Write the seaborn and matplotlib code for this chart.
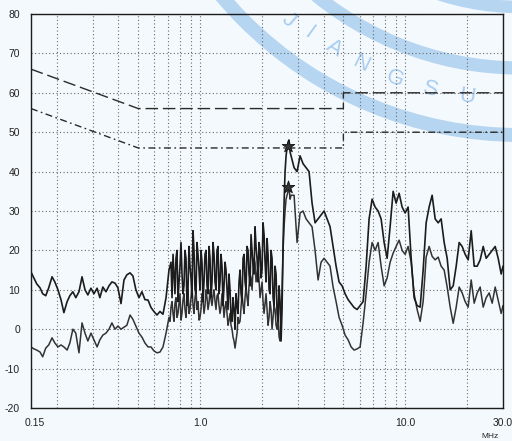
import matplotlib
matplotlib.use("Agg")
import matplotlib.pyplot as plt
from matplotlib.patches import Circle
from matplotlib.ticker import NullFormatter
import matplotlib.transforms as mtransforms
import numpy as np
import seaborn as sns

# ---- sweep frequencies (MHz) -------------------------------------------
freq_mhz = [
    0.150, 0.155, 0.160, 0.166, 0.171, 0.177, 0.183, 0.190, 0.196, 0.203,
    0.210, 0.217, 0.225, 0.232, 0.240, 0.248, 0.257, 0.266, 0.275, 0.284,
    0.294, 0.304, 0.315, 0.325, 0.336, 0.348, 0.360, 0.372, 0.385, 0.398,
    0.412, 0.426, 0.440, 0.456, 0.471, 0.487, 0.504, 0.521, 0.539, 0.558,
    0.577, 0.596, 0.617, 0.638, 0.660, 0.683, 0.706,
    0.7143, 0.7221, 0.7305, 0.7386, 0.7466, 0.7551, 0.7636, 0.7723, 0.7810, 0.7901,
    0.7989, 0.8079, 0.8169, 0.8262, 0.8354, 0.8449, 0.8545, 0.8641, 0.8739, 0.8837,
    0.8938, 0.9039, 0.9141, 0.9244, 0.9349, 0.9454, 0.9561, 0.9669, 0.9778, 0.9888,
    1.0000, 1.0113, 1.0227, 1.0342, 1.0460, 1.0578, 1.0697, 1.0818, 1.0940, 1.1064,
    1.1189, 1.1315, 1.1443, 1.1572, 1.1703, 1.1835, 1.1969, 1.2103, 1.2241, 1.2379,
    1.2519, 1.2660, 1.2803, 1.2948, 1.3094, 1.3243, 1.3392, 1.3542, 1.3696, 1.3851,
    1.4007, 1.4166, 1.4325, 1.4488, 1.4651, 1.4817, 1.4984, 1.5155, 1.5324, 1.5498,
    1.5672, 1.5849, 1.6029, 1.6213, 1.6393, 1.6580, 1.6765, 1.6959, 1.7146, 1.7338,
    1.7536, 1.7734, 1.7934, 1.8134, 1.8341, 1.8548, 1.8758, 1.8967, 1.9184, 1.9400,
    1.9620, 1.9843, 2.0066, 2.0291, 2.0522, 2.0755, 2.0988, 2.1223, 2.1465, 2.1708,
    2.1952, 2.2198, 2.2451, 2.2707, 2.2961, 2.3226, 2.3483, 2.3751, 2.4016, 2.4294,
    2.4562, 2.4842, 2.5120, 2.5409, 2.5690, 2.5983, 2.6274, 2.6577, 2.6871, 2.7177,
    2.7481, 2.7797,
    2.875, 2.973, 3.075, 3.180, 3.289, 3.401, 3.518, 3.639, 3.764, 3.892,
    4.026, 4.164, 4.306, 4.454, 4.607, 4.764, 4.928, 5.096, 5.272, 5.453,
    5.639, 5.833, 6.033, 6.239, 6.454, 6.674, 6.902, 7.140, 7.384, 7.637,
    7.900, 8.170, 8.449, 8.740, 9.039, 9.348, 9.669, 10.00, 10.34, 10.70,
    11.06, 11.44, 11.84, 12.24, 12.66, 13.09, 13.54, 14.01, 14.49, 14.98,
    15.50, 16.03, 16.58, 17.15, 17.74, 18.34, 18.97, 19.62, 20.29, 20.99,
    21.71, 22.45, 23.22, 24.02, 24.84, 25.69, 26.57, 27.48, 28.42, 29.40,
    30.00,
]

# ---- peak detector trace (dBuV) -----------------------------------------
peak_dbuv = [
    14.5, 13.0, 11.5, 10.5, 9.0, 8.5, 10.5, 13.3, 12.0, 10.0,
    7.5, 4.2, 7.0, 8.5, 9.5, 8.0, 9.5, 13.3, 10.0, 8.7,
    10.4, 9.0, 10.4, 8.0, 10.7, 9.5, 11.0, 12.0, 11.7, 10.5,
    6.5, 12.5, 13.8, 14.3, 13.5, 10.0, 8.0, 9.5, 7.5, 7.4,
    5.5, 4.5, 3.6, 4.5, 3.8, 8.0, 15.0,
    16, 17, 8, 19, 14, 9, 18, 20, 7, 12,
    16, 22, 14, 9, 11, 20, 18, 6, 10, 21,
    16, 13, 8, 25, 20, 10, 9, 22, 19, 15,
    10, 20, 17, 7, 12, 19, 20, 11, 9, 21,
    18, 8, 12, 22, 19, 12, 10, 20, 21, 9,
    12, 19, 16, 6, 11, 17, 15, 10, 5, 14,
    10, 3, 2, 8, 5, 0, 9, 6, 4, 12,
    15, 9, 7, 18, 19, 12, 10, 21, 20, 14,
    11, 24, 20, 16, 14, 26, 21, 18, 12, 22,
    20, 13, 15, 27, 24, 17, 12, 23, 19, 10,
    9, 20, 18, 8, 6, 16, 14, 4, 2, 11,
    7, -3, 5, 22, 32, 40, 44, 46, 47, 48,
    45, 44,
    41, 40, 44, 42, 41, 40, 32, 27, 28, 29,
    30, 28, 26, 21, 16, 12, 11, 9, 7.5, 6.5,
    5.5, 5, 6, 7, 16, 28, 33, 31, 30, 28,
    22, 18, 26, 35, 32, 34.5, 31, 29.5, 31, 18,
    8, 6, 5.6, 15, 27, 31, 34, 28, 27, 28,
    22, 18, 10, 11, 16, 22, 21, 19, 17.6, 25,
    16, 16, 17.6, 21, 18, 19, 20, 21, 18, 14,
    16,
]

# ---- average detector trace (dBuV) --------------------------------------
avg_dbuv = [
    -4.5, -5, -5.3, -5.8, -7, -4.8, -4, -2.2, -3.5, -4.5,
    -4, -4.5, -5.3, -3.5, 0, -1, -6, 1.6, -1, -3,
    -1, -2.7, -4.5, -2.7, -1.5, -1, 0, 1.6, 0, 0.8,
    0, 0.5, 1, 3.6, 2.5, 0.8, -1, -2, -3.5, -4.5,
    -4.5, -5.5, -6, -5.8, -4.5, -1, 3,
    2, 5.6, 7, 4, 2, 6.6, 8, 3, 4, 6.6,
    9, 2.3, 4, 7.4, 9, 5, 3, 7.4, 10, 4,
    5, 8, 11, 6, 4, 8, 10, 5, 7, 2.3,
    3, 5, 9, 7.4, 4, 6, 10, 8, 5, 6.6,
    10, 7.5, 6, 8.5, 10, 7, 5, 8.5, 9, 6,
    4, 5.6, 9, 7, 3, 5.6, 7, 4, 1, 2.3,
    4, 1, 0, -2, -3, -4.8, -3, -1, 3, 1.5,
    2, 5.6, 9, 6, 4, 8, 11, 8, 6, 11,
    14, 13, 10, 15, 18, 16.8, 12, 14, 16, 12.5,
    8, 10, 12, 7, 4, 6.6, 9, 5, 1, 3,
    7, 5, 0, 3, 6, 5, 1, 0, 3, -2,
    -3, 3, 10, 20, 26, 30, 33, 34, 35, 36,
    33, 34,
    34, 22, 29.5, 30, 28, 27, 26, 20, 12.5, 17,
    18, 17, 16, 10.7, 7, 3, 1, -1.5, -2.7, -4.5,
    -5.3, -5, -4.5, 1.6, 9, 17, 22, 20, 22, 16,
    11, 13, 17, 19.3, 21, 22.6, 20, 19, 21, 17,
    9, 5, 2, 7, 18.3, 21, 18.5, 17.6, 18.3, 16,
    15, 10.7, 5.6, 1.5, 5.6, 10.7, 9.2, 7, 5.6, 12.5,
    6.6, 9.2, 10.7, 5.6, 8, 9.2, 6.6, 10.7, 7.4, 4,
    6,
]

# ---- limit lines (EN 55022 class B style) -------------------------------
qp_limit_f = [0.15, 0.5, 5.0, 5.0, 30.0]
qp_limit_db = [66, 56, 56, 60, 60]
av_limit_f = [0.15, 0.5, 5.0, 5.0, 30.0]
av_limit_db = [56, 46, 46, 50, 50]

# ---- peak markers -------------------------------------------------------
marker_f = [2.69, 2.69]
marker_db = [46.5, 36]

# ---- axis labels --------------------------------------------------------
y_ticks = list(range(-20, 81, 10))
x_tick_vals = [0.15, 1.0, 10.0, 30.0]
x_tick_text = ["0.15", "1.0", "10.0", "30.0"]
x_unit = "MHz"
stamp_letters = ["J", "I", "A", "N", "G", "S", "U"]

sns.set_style("white")
plt.rcParams["font.family"] = ["Liberation Sans Narrow", "Liberation Sans", "DejaVu Sans"]

W, H = 512, 441
paper = "#f3f9fd"
ink = "#1c1c1c"

fig = plt.figure(figsize=(W / 100, H / 100), dpi=100, facecolor=paper)

# stamp layer behind the chart, in pixel units
bg = fig.add_axes([0, 0, 1, 1], zorder=0)
bg.set_xlim(0, W)
bg.set_ylim(H, 0)
bg.axis("off")
stamp_c = (520, -255)
stamp_blue = "#a6ccef"
for r, lw in [(262, 9.0), (323, 9.5), (390, 10.0)]:
    bg.add_patch(Circle(stamp_c, r, fill=False, edgecolor=stamp_blue, lw=lw, alpha=0.8))
letter_angles = [130, 126, 121.5, 116.5, 110.5, 104.5, 98.5]
letter_radii = [360, 357, 356, 356, 356, 356, 356]
for ch, th, rr in zip(stamp_letters, letter_angles, letter_radii):
    t = np.deg2rad(th)
    px = stamp_c[0] + rr * np.cos(t)
    py = stamp_c[1] + rr * np.sin(t)
    bg.text(px, py, ch, color="#a9cdf0", fontsize=16, ha="center", va="center",
            rotation=90 - th, family=["Liberation Sans", "DejaVu Sans"])

# chart layer
ax = fig.add_axes([31 / W, (H - 408) / H, 472 / W, 394 / H], zorder=1)
ax.patch.set_alpha(0)
ax.set_xscale("log")
ax.set_xlim(0.15, 30)
ax.set_ylim(-20, 80)

minor_x = [0.2, 0.3, 0.4, 0.5, 0.6, 0.7, 0.8, 0.9,
           2, 3, 4, 5, 6, 7, 8, 9, 20]
ax.set_xticks(x_tick_vals)
ax.set_xticklabels(x_tick_text)
ax.set_xticks(minor_x, minor=True)
ax.xaxis.set_minor_formatter(NullFormatter())
ax.set_yticks(y_ticks)
ax.set_yticklabels([str(v) for v in y_ticks])

ax.grid(which="both", axis="x", color="#6a6a6a", lw=0.8, linestyle=(0, (1, 2.2)))
ax.grid(which="major", axis="y", color="#6a6a6a", lw=0.8, linestyle=(0, (1, 2.2)))
ax.set_axisbelow(True)

ax.tick_params(which="major", direction="out", length=3, width=0.8, color=ink,
               labelsize=7.5, labelcolor="#222222")
ax.tick_params(axis="x", which="major", pad=4)
ax.tick_params(axis="y", which="major", pad=5)
ax.tick_params(which="minor", length=0)
for s in ax.spines.values():
    s.set_color(ink)
    s.set_linewidth(1.0)

# nudge first x label so it starts at the axis corner
lab0 = ax.get_xticklabels()[0]
lab0.set_transform(lab0.get_transform() + mtransforms.ScaledTranslation(4 / 100, 0, fig.dpi_scale_trans))

# limit lines
sns.lineplot(x=qp_limit_f, y=qp_limit_db, ax=ax, estimator=None, sort=False,
             color="#2a2a2a", lw=1.0, dashes=False)
ax.lines[-1].set_linestyle((0, (9, 3.5)))
sns.lineplot(x=av_limit_f, y=av_limit_db, ax=ax, estimator=None, sort=False,
             color="#2a2a2a", lw=1.0, dashes=False)
ax.lines[-1].set_linestyle((0, (5, 2.5, 1.2, 2.5)))

# measured traces
sns.lineplot(x=freq_mhz, y=avg_dbuv, ax=ax, estimator=None, sort=False,
             color="#333333", lw=1.1)
sns.lineplot(x=freq_mhz, y=peak_dbuv, ax=ax, estimator=None, sort=False,
             color=ink, lw=1.2)

# peak markers
sns.scatterplot(x=marker_f, y=marker_db, ax=ax, marker="*", s=90,
                color="#333333", edgecolor="#111111", linewidth=0.6, zorder=5)

ax.set_xlabel("")
ax.set_ylabel("")
fig.text(490 / W, 1 - 436 / H, x_unit, fontsize=6, ha="center", va="center", color="#222222")

fig.savefig("out.png", dpi=100, facecolor=paper)
